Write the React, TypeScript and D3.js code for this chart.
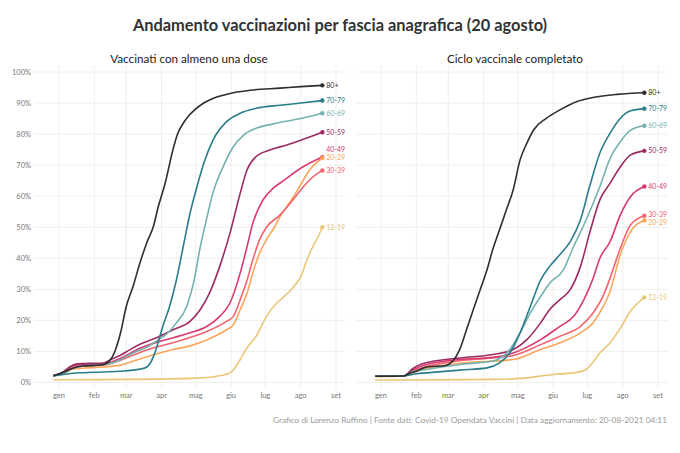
import React from "react";
import * as d3 from "d3";

// ---------- data ----------
const groups = ["80+", "70-79", "60-69", "50-59", "40-49", "30-39", "20-29", "12-19"];
const colors = ["#2e2e2e", "#2a7d8b", "#74b2b0", "#9c2b63", "#d73a6e", "#f2646f", "#fba65c", "#ebc679"];
const monthLabels = ["gen", "feb", "mar", "apr", "mag", "giu", "lug", "ago", "set"];
const yTicks = [0, 10, 20, 30, 40, 50, 60, 70, 80, 90, 100];

type P = [string, number];

// Vaccinati con almeno una dose
const d1_80: P[] = [["2020-12-27",2.2],["2021-01-05",3.3],["2021-01-13",4.6],["2021-01-22",5.3],["2021-02-01",5.5],["2021-02-09",5.8],["2021-02-14",6.8],["2021-02-19",10],["2021-02-24",16],["2021-03-01",24.5],["2021-03-07",31],["2021-03-13",38.5],["2021-03-19",45],["2021-03-25",50.5],["2021-03-29",56.5],["2021-04-04",64],["2021-04-11",75],["2021-04-15",80],["2021-04-20",83.5],["2021-04-25",86],["2021-04-30",87.8],["2021-05-08",90],["2021-05-16",91.5],["2021-05-26",92.6],["2021-06-03",93.3],["2021-06-20",94.2],["2021-07-14",94.8],["2021-08-01",95.3],["2021-08-20",95.7]];
const d1_70: P[] = [["2020-12-27",2.2],["2021-01-05",2.6],["2021-01-13",3.0],["2021-02-01",3.3],["2021-02-23",3.6],["2021-03-13",4.3],["2021-03-19",5.0],["2021-03-22",6.2],["2021-03-25",8.5],["2021-03-28",11.7],["2021-04-02",18],["2021-04-08",24.5],["2021-04-14",33],["2021-04-20",43.8],["2021-04-26",54.6],["2021-05-02",63],["2021-05-08",70.6],["2021-05-16",78],["2021-05-28",84],["2021-06-09",86.7],["2021-06-23",88.3],["2021-07-14",89.3],["2021-08-01",90.0],["2021-08-20",90.8]];
const d1_60: P[] = [["2020-12-27",2.2],["2021-01-05",3.0],["2021-01-13",4.6],["2021-01-22",5.3],["2021-02-09",5.7],["2021-02-23",7.2],["2021-03-07",9.5],["2021-03-13",10.4],["2021-03-22",12],["2021-03-28",13.5],["2021-04-05",15.5],["2021-04-14",19.2],["2021-04-23",24.5],["2021-04-29",32],["2021-05-05",43.8],["2021-05-11",53.5],["2021-05-16",61],["2021-05-25",69.5],["2021-06-03",76],["2021-06-12",79.7],["2021-06-23",81.9],["2021-07-08",83.3],["2021-08-01",85],["2021-08-20",86.7]];
const d1_50: P[] = [["2020-12-27",2.2],["2021-01-05",3.5],["2021-01-11",5.2],["2021-01-17",6.0],["2021-02-09",6.3],["2021-02-16",7.5],["2021-02-24",8.8],["2021-03-04",10.5],["2021-03-13",12.3],["2021-03-28",14.5],["2021-04-11",17],["2021-04-26",19.7],["2021-05-05",23.5],["2021-05-13",28.8],["2021-05-22",37.4],["2021-05-31",48.1],["2021-06-09",61],["2021-06-15",68.5],["2021-06-23",72.8],["2021-07-05",74.9],["2021-07-20",76.5],["2021-08-01",78],["2021-08-20",80.6]];
const d1_40: P[] = [["2020-12-27",2.2],["2021-01-05",3.3],["2021-01-13",5.3],["2021-01-22",5.7],["2021-02-09",5.9],["2021-02-24",7.8],["2021-03-13",11],["2021-03-28",13],["2021-04-11",14.4],["2021-04-26",16],["2021-05-11",18.1],["2021-05-22",21.3],["2021-05-31",25.6],["2021-06-09",35.3],["2021-06-15",43.8],["2021-06-20",51.3],["2021-06-29",58.8],["2021-07-08",62.6],["2021-07-17",65],["2021-08-01",69],["2021-08-20",72.6]];
const d1_30: P[] = [["2020-12-27",2.2],["2021-01-05",3.0],["2021-01-13",4.8],["2021-01-22",5.3],["2021-02-09",5.6],["2021-02-24",7.2],["2021-03-13",9.7],["2021-03-28",11.5],["2021-04-11",12.8],["2021-04-26",14.5],["2021-05-11",16.5],["2021-05-28",19.7],["2021-06-03",21.3],["2021-06-09",26.7],["2021-06-15",33],["2021-06-20",39.5],["2021-06-26",46],["2021-07-02",50],["2021-07-14",54],["2021-07-23",57.8],["2021-07-31",61.5],["2021-08-09",65.3],["2021-08-20",68.3]];
const d1_20: P[] = [["2020-12-27",2.0],["2021-01-05",2.8],["2021-01-13",4.3],["2021-01-22",4.6],["2021-02-09",5.0],["2021-02-24",5.6],["2021-03-13",7.6],["2021-04-11",10.6],["2021-04-26",11.8],["2021-05-11",13.8],["2021-05-28",17],["2021-06-03",18.6],["2021-06-09",23.5],["2021-06-15",28.8],["2021-06-20",35.3],["2021-06-26",41.7],["2021-07-02",46],["2021-07-09",50],["2021-07-14",53.5],["2021-07-23",58.3],["2021-07-31",63.1],["2021-08-09",68.5],["2021-08-20",72.3]];
const d1_12: P[] = [["2020-12-27",0.9],["2021-03-02",1.0],["2021-05-01",1.4],["2021-05-19",2.0],["2021-05-31",3.1],["2021-06-05",5],["2021-06-09",7.4],["2021-06-15",11.2],["2021-06-23",14.9],["2021-07-02",21.3],["2021-07-11",25.6],["2021-07-17",27.5],["2021-07-25",30.5],["2021-08-01",34],["2021-08-07",40],["2021-08-12",44],["2021-08-17",47.5],["2021-08-20",50]];

// Ciclo vaccinale completato
const d2_80: P[] = [["2020-12-27",2.0],["2021-01-21",2.1],["2021-01-26",3.0],["2021-02-01",3.6],["2021-02-06",4.5],["2021-02-10",5.0],["2021-02-27",5.5],["2021-03-05",6.9],["2021-03-11",10.6],["2021-03-17",17],["2021-03-23",23.5],["2021-03-29",29.9],["2021-04-04",36.3],["2021-04-09",42.8],["2021-04-15",49.2],["2021-04-21",55.6],["2021-04-27",62.1],["2021-05-03",71.7],["2021-05-09",77.1],["2021-05-15",81.4],["2021-05-26",85.1],["2021-06-07",87.8],["2021-06-22",90.5],["2021-07-06",91.8],["2021-07-27",92.8],["2021-08-20",93.3]];
const d2_70: P[] = [["2020-12-27",2.0],["2021-01-21",2.1],["2021-02-01",2.8],["2021-02-10",3.1],["2021-03-11",4.0],["2021-04-04",4.7],["2021-04-15",6.3],["2021-04-24",9.5],["2021-05-03",16],["2021-05-12",24.5],["2021-05-21",33],["2021-05-29",37.4],["2021-06-07",41.2],["2021-06-16",45.4],["2021-06-25",52.4],["2021-07-03",63.1],["2021-07-12",73.9],["2021-07-21",80.3],["2021-07-30",85.1],["2021-08-08",87.5],["2021-08-20",88.2]];
const d2_60: P[] = [["2020-12-27",2.0],["2021-01-21",2.1],["2021-01-29",3.5],["2021-02-10",4.2],["2021-03-11",5.8],["2021-04-09",6.9],["2021-04-24",10.6],["2021-05-03",16],["2021-05-12",22.4],["2021-05-21",27.7],["2021-05-29",32],["2021-06-10",36.3],["2021-06-19",43.8],["2021-06-30",52.4],["2021-07-12",63.1],["2021-07-21",72.2],["2021-07-30",77.6],["2021-08-08",81.3],["2021-08-20",82.7]];
const d2_50: P[] = [["2020-12-27",2.0],["2021-01-21",2.1],["2021-01-29",4.5],["2021-02-07",6.1],["2021-03-11",7.9],["2021-04-09",9.0],["2021-04-27",10.6],["2021-05-09",13.8],["2021-05-21",19.2],["2021-05-29",23.5],["2021-06-07",26.7],["2021-06-16",29.9],["2021-06-25",37.4],["2021-07-03",48.1],["2021-07-12",58.8],["2021-07-21",64.2],["2021-07-30",69.5],["2021-08-08",73.3],["2021-08-20",74.6]];
const d2_40: P[] = [["2020-12-27",2.0],["2021-01-21",2.1],["2021-01-29",4.0],["2021-02-07",5.5],["2021-03-11",7.4],["2021-04-09",8.1],["2021-04-27",9.5],["2021-05-21",13.8],["2021-06-07",18.1],["2021-06-19",21.3],["2021-06-28",26.7],["2021-07-06",33.5],["2021-07-12",40],["2021-07-21",45.4],["2021-07-30",54],["2021-08-08",59.9],["2021-08-20",63.1]];
const d2_30: P[] = [["2020-12-27",2.0],["2021-01-21",2.1],["2021-01-29",3.6],["2021-02-07",4.8],["2021-03-11",7.0],["2021-04-27",8.7],["2021-05-21",12.2],["2021-06-07",14.9],["2021-06-25",18.1],["2021-07-06",22.4],["2021-07-15",28],["2021-07-21",33.7],["2021-07-30",43.3],["2021-08-08",50.8],["2021-08-20",53.7]];
const d2_20: P[] = [["2020-12-27",1.9],["2021-01-21",2.0],["2021-01-29",3.3],["2021-02-07",4.3],["2021-03-11",6.2],["2021-04-27",7.4],["2021-05-21",10.6],["2021-06-07",12.8],["2021-06-25",16],["2021-07-06",19.2],["2021-07-15",24.5],["2021-07-21",29.4],["2021-07-30",41.2],["2021-08-08",48.6],["2021-08-20",52.2]];
const d2_12: P[] = [["2020-12-27",0.8],["2021-04-11",1.0],["2021-05-09",1.5],["2021-06-01",2.6],["2021-06-19",3.1],["2021-06-30",4.2],["2021-07-06",6.5],["2021-07-12",9.5],["2021-07-21",12.8],["2021-07-30",17.5],["2021-08-08",23],["2021-08-20",27.4]];

const firstDose = [d1_80, d1_70, d1_60, d1_50, d1_40, d1_30, d1_20, d1_12];
const fullCycle = [d2_80, d2_70, d2_60, d2_50, d2_40, d2_30, d2_20, d2_12];

const title = "Andamento vaccinazioni per fascia anagrafica (20 agosto)";
const subtitles = ["Vaccinati con almeno una dose", "Ciclo vaccinale completato"];
const caption = "Grafico di Lorenzo Ruffino | Fonte dati: Covid-19 Opendata Vaccini | Data aggiornamento: 20-08-2021 04:11";

// label nudges (layout only, px)
const nudgeLeft = [0, 0, 0, 0, -8, 0, 0, 0];
const nudgeRight = [0, 0, 0, 0, 0, -1, 2, 0];

const FONT = "Lato, 'Open Sans', sans-serif";

export default function App() {
  const parse = d3.timeParse("%Y-%m-%d");
  const monthDates = d3.timeMonth.range(parse("2021-01-01")!, parse("2021-09-02")!);
  const y = d3.scaleLinear().domain([0, 100]).range([382.5, 72]);

  const panels = [
    { sub: subtitles[0], data: firstDose, range: [59, 336], grid: [34, 345], showY: true, nudge: nudgeLeft, cx: 189 },
    { sub: subtitles[1], data: fullCycle, range: [381, 658], grid: [356, 668], showY: false, nudge: nudgeRight, cx: 515 },
  ];

  return (
    <svg width={680} height={453} style={{ position: "absolute", left: 0, top: 0, background: "#fff" }} fontFamily={FONT}>
      <rect width={680} height={453} fill="#fff" />
      <text x={340} y={31} textAnchor="middle" fontSize={16.4} fontWeight={700} fill="#333">{title}</text>
      {panels.map((p, pi) => {
        const x = d3.scaleTime().domain([parse("2021-01-01")!, parse("2021-09-01")!]).range(p.range);
        const line = d3.line<P>().x(d => x(parse(d[0])!)).y(d => y(d[1])).curve(d3.curveMonotoneX);
        return (
          <g key={pi}>
            <text x={p.cx} y={63} textAnchor="middle" fontSize={11.7} fill="#222">{p.sub}</text>
            {yTicks.map(t => (
              <line key={"h" + t} x1={p.grid[0]} x2={p.grid[1]} y1={y(t)} y2={y(t)} stroke="#ebebeb" strokeWidth={0.8} />
            ))}
            {monthDates.map((m, i) => (
              <line key={"v" + i} x1={x(m)} x2={x(m)} y1={66} y2={388} stroke="#ebebeb" strokeWidth={0.8} />
            ))}
            {p.showY && yTicks.map(t => (
              <text key={"yl" + t} x={31} y={y(t)} dy="0.35em" textAnchor="end" fontSize={7.5} fill="#777">{t + "%"}</text>
            ))}
            {monthDates.map((m, i) => (
              <text key={"xl" + i} x={x(m)} y={398} textAnchor="middle" fontSize={7.5} fill="#777">{monthLabels[i]}</text>
            ))}
            {p.data.slice().reverse().map((s, ri) => {
              const i = p.data.length - 1 - ri;
              return <path key={"l" + i} d={line(s)!} fill="none" stroke={colors[i]} strokeWidth={1.6} strokeLinejoin="round" />;
            })}
            {p.data.map((s, i) => {
              const last = s[s.length - 1];
              const px = x(parse(last[0])!);
              const py = y(last[1]);
              return (
                <g key={"e" + i}>
                  <circle cx={px} cy={py} r={2.2} fill={colors[i]} />
                  <text x={px + 4} y={py + p.nudge[i]} dy="0.35em" fontSize={7} fill={colors[i]}>{groups[i]}</text>
                </g>
              );
            })}
          </g>
        );
      })}
      <text x={667} y={423} textAnchor="end" fontSize={8.3} fill="#9a9a9a">{caption}</text>
    </svg>
  );
}
